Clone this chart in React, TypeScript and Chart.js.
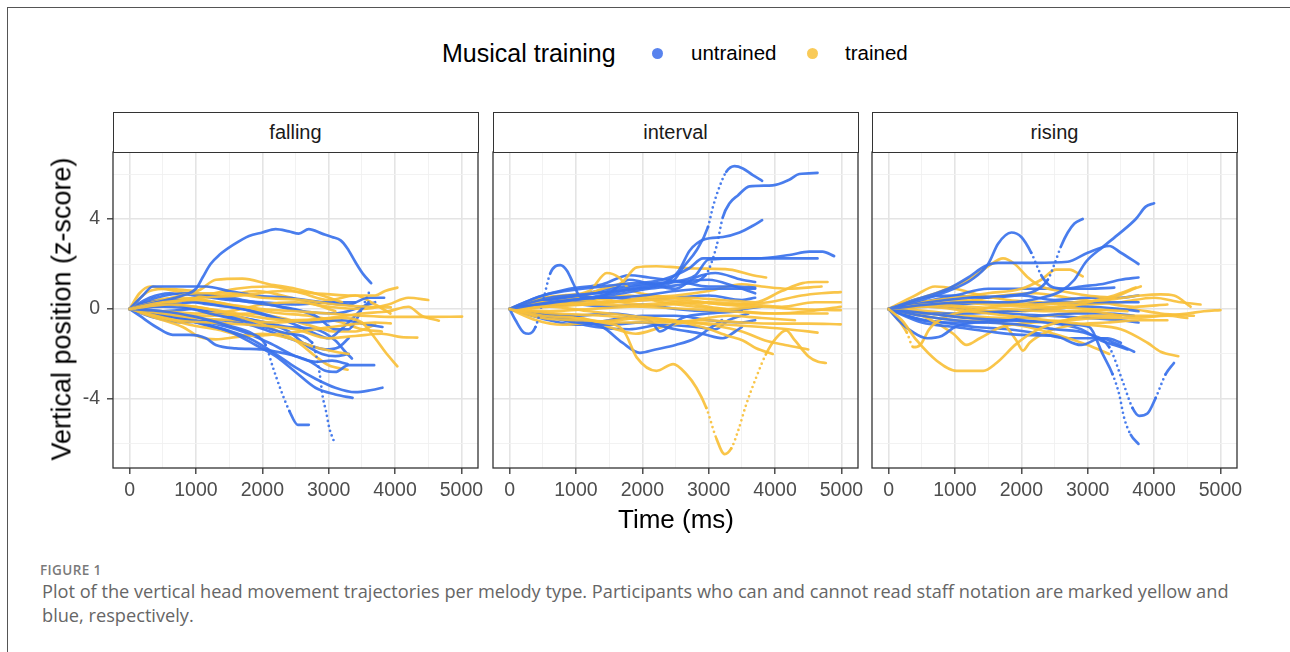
import React, { useEffect, useRef } from 'react';
import { Chart, registerables } from 'chart.js';

Chart.register(...registerables);

// ---------- data (time in ms, vertical position as z-score) ----------
const PANEL_TITLES = ['falling', 'interval', 'rising'];
const GROUP_LABELS = ['untrained', 'trained'];
const X_TICKS = [0, 500, 1000, 1500, 2000, 2500, 3000, 3500, 4000, 4500, 5000];
const Y_TICKS = [-6, -4, -2, 0, 2, 4, 6];

const fallingUntrained: number[][][] = [
  [[0,0],[400,0.3],[800,0.6],[1000,0.9],[1100,1.4],[1220,2.0],[1350,2.4],[1560,2.85],[1800,3.25],[2000,3.4],[2200,3.55],[2400,3.45],[2550,3.35],[2700,3.55],[2900,3.35],[3050,3.2],[3180,3.05],[3280,2.7],[3400,2.1],[3520,1.55],[3640,1.15]],
  [[0,0],[500,-0.1],[1000,-0.35],[1500,-0.75],[1850,-1.1],[2050,-1.6],[2160,-2.6],[2285,-3.65],[2410,-4.55],[2535,-5.15],[2700,-5.15]],
  [[0,0],[600,0.2],[1200,-0.2],[1800,-0.6],[2400,-1.1],[2750,-1.5],[2860,-2.8],[2910,-3.9],[2960,-4.55],[3010,-5.3],[3075,-5.85]],
  [[0,0],[500,-0.2],[1000,-0.6],[1500,-1.0],[1900,-1.6],[2200,-2.1],[2500,-2.8],[2800,-3.5],[3100,-3.8],[3360,-3.95]],
  [[0,0],[700,-0.4],[1300,-0.8],[1800,-1.3],[2200,-2.0],[2500,-2.6],[2800,-3.1],[3100,-3.5],[3400,-3.7],[3650,-3.6],[3810,-3.5]],
  [[0,0],[150,-0.3],[400,-0.8],[650,-1.15],[900,-1.15],[1150,-1.3],[1300,-1.6],[1600,-1.75],[2000,-1.8],[2300,-1.95],[2700,-2.3],[2950,-2.75],[3100,-2.8],[3300,-2.5],[3685,-2.5]],
  [[0,0],[500,-0.3],[1000,-0.5],[1600,-0.9],[2100,-1.5],[2500,-2.1],[2800,-2.35],[3050,-2.3],[3285,-2.45]],
  [[0,0],[200,0.6],[350,1.0],[800,1.0],[1150,1.0],[1500,0.8],[1900,0.6],[2400,0.5],[2900,0.3],[3300,0.2],[3600,0.5],[3835,0.5]],
  [[0,0],[400,0.5],[900,0.7],[1400,0.5],[1800,0.3],[2300,0.1],[2800,-0.3],[3100,-0.9],[3300,-0.9],[3450,-0.3],[3610,0.75]],
  [[0,0],[300,0.3],[700,0.4],[1200,0.2],[1700,0.0],[2200,-0.4],[2700,-0.6],[3200,-0.5],[3600,-0.7],[3810,-0.8]],
  [[0,0],[500,0.15],[1000,0.3],[1500,0.1],[2000,-0.2],[2500,-0.7],[2800,-1.1],[3000,-1.3],[3150,-1.0],[3400,-0.3],[3600,0.3]],
  [[0,0],[400,-0.4],[800,-0.6],[1300,-0.5],[1800,-0.7],[2300,-1.2],[2700,-1.6],[2950,-1.8],[3150,-1.7],[3300,-1.3]],
  [[0,0],[300,0.5],[600,0.7],[1000,0.6],[1500,0.4],[2000,0.3],[2500,0.2],[3000,0.3],[3400,0.3]],
  [[0,0],[500,-0.1],[1000,0.0],[1400,-0.3],[1900,-0.5],[2400,-0.8],[2800,-0.9],[3100,-1.4],[3250,-1.9],[3350,-2.2]],
  [[0,0],[600,0.3],[1300,0.6],[1700,0.4],[2100,0.2],[2600,-0.1],[3100,-0.2],[3500,0.1],[3700,0.3]],
  [[0,0],[500,0.1],[1200,-0.1],[2000,-0.6],[2400,-1.0],[2650,-1.6],[2900,-2.0],[3100,-2.1],[3300,-2.0]],
];

const fallingTrained: number[][][] = [
  [[0,0],[500,0.3],[1000,0.4],[1500,0.2],[2000,0.0],[2500,-0.1],[3000,-0.2],[3500,-0.3],[3900,-0.35],[4500,-0.35],[5010,-0.34]],
  [[0,0],[600,0.2],[1200,0.0],[1800,-0.3],[2400,-0.5],[3000,-0.4],[3500,-0.2],[3900,-0.1],[4200,0.1],[4400,-0.3],[4660,-0.52]],
  [[0,0],[700,-0.5],[1200,-0.6],[1800,-0.7],[2500,-0.9],[3000,-1.3],[3400,-1.2],[3800,-1.1],[4100,-1.25],[4335,-1.27]],
  [[0,0],[500,-0.2],[1000,-0.4],[1600,-0.5],[2200,-0.6],[2700,-0.5],[3200,-0.4],[3500,-0.6],[3700,-1.3],[3850,-1.9],[4035,-2.55]],
  [[0,0],[600,0.3],[1100,0.5],[1700,0.6],[2300,0.8],[2800,0.7],[3300,0.6],[3700,0.6],[3850,0.8],[4035,0.95]],
  [[0,0],[500,0.4],[1000,0.7],[1500,0.7],[2000,0.5],[2600,0.4],[3100,0.2],[3600,0.1],[3935,0.07]],
  [[0,0],[400,-0.3],[900,-0.7],[1300,-0.9],[1800,-1.2],[2300,-1.1],[2800,-0.9],[3300,-0.7],[3700,-0.6],[3935,-0.64]],
  [[0,0],[500,0.2],[1000,0.1],[1600,-0.3],[2100,-0.8],[2500,-1.4],[2800,-2.1],[3000,-2.5],[3285,-2.7]],
  [[0,0],[300,0.8],[600,0.9],[1000,0.8],[1300,1.3],[1700,1.35],[2100,1.1],[2500,0.9],[2900,0.6],[3200,0.3]],
  [[0,0],[150,0.7],[310,1.0],[500,0.9],[900,0.7],[1400,0.6],[1900,0.8],[2300,0.6],[2800,0.2],[3100,-0.1]],
  [[0,0],[400,-0.4],[800,-0.8],[1060,-1.25],[1300,-1.35],[1600,-1.25],[2000,-1.1],[2400,-1.3],[2800,-1.7],[3100,-1.9],[3300,-2.0]],
  [[0,0],[500,-0.1],[1000,-0.2],[1500,-0.1],[2000,0.2],[2500,0.3],[3000,0.1],[3500,0.0],[3900,0.2],[4200,0.5],[4500,0.4]],
  [[0,0],[500,0.2],[1000,0.5],[1600,0.9],[2100,1.0],[2600,0.7],[3000,0.4],[3400,0.6],[3700,0.2],[3930,-0.2]],
  [[0,0],[600,-0.3],[1200,-0.3],[1800,-0.2],[2300,-0.4],[2800,-0.8],[3100,-1.0],[3400,-1.0],[3700,-0.7]],
  [[0,0],[400,0.4],[800,0.5],[1300,0.3],[1800,0.0],[2300,-0.2],[2700,-0.3],[3200,-0.6],[3500,-0.9],[3800,-1.0]],
];

const intervalUntrained: number[][][] = [
  [[0,0],[600,0.3],[1200,0.5],[1700,0.8],[2100,1.0],[2450,1.2],[2615,1.85],[2815,2.6],[2990,3.65],[3065,4.55],[3165,5.45],[3265,6.1],[3390,6.35],[3515,6.25],[3665,5.95],[3805,5.7]],
  [[0,0],[700,0.3],[1500,0.6],[2100,0.9],[2600,1.1],[2950,1.5],[3115,2.75],[3215,4.1],[3315,4.7],[3440,5.05],[3615,5.45],[3965,5.5],[4215,5.75],[4365,6.0],[4640,6.05]],
  [[0,0],[600,0.5],[1300,0.7],[1900,0.9],[2300,1.1],[2550,1.7],[2715,2.6],[2940,3.1],[3215,3.2],[3465,3.4],[3665,3.7],[3805,3.95]],
  [[0,0],[500,0.6],[1100,0.9],[1700,1.1],[2300,1.3],[2700,1.8],[2915,2.25],[3300,2.25],[3715,2.25],[4215,2.4],[4515,2.55],[4715,2.55],[4890,2.35]],
  [[0,0],[600,0.4],[1300,0.7],[1900,1.0],[2400,1.2],[2800,1.5],[3000,2.2],[3500,2.25],[4000,2.25],[4640,2.25]],
  [[0,0],[90,-0.5],[215,-1.05],[290,-1.1],[390,-0.8],[515,0.5],[615,1.6],[765,1.95],[865,1.7],[965,1.1],[1065,0.55],[1500,0.5],[2000,0.6],[2500,0.8],[3000,0.9],[3700,0.9]],
  [[0,0],[500,-0.3],[1000,-0.5],[1400,-0.8],[1700,-1.5],[1965,-1.95],[2200,-1.8],[2500,-1.6],[2800,-1.3],[3000,-0.9],[3200,-0.5]],
  [[0,0],[500,-0.2],[1000,-0.3],[1500,-0.2],[2000,-0.4],[2150,-0.6],[2265,-1.0],[2400,-0.8],[2600,-0.4],[3000,-0.2],[3500,-0.1]],
  [[0,0],[500,-0.3],[1000,-0.6],[1500,-0.7],[2000,-0.6],[2500,-0.9],[2900,-1.1],[3215,-1.3],[3400,-1.0],[3500,-0.8]],
  [[0,0],[400,0.5],[900,0.9],[1400,1.1],[1800,1.5],[2100,1.4],[2600,1.2],[3000,1.0],[3400,1.0],[3700,0.95]],
  [[0,0],[500,0.4],[1000,0.6],[1500,0.9],[2000,1.1],[2500,1.2],[3000,1.3],[3400,1.0],[3700,0.7]],
  [[0,0],[400,0.3],[900,0.5],[1500,0.5],[2000,0.4],[2500,0.5],[3000,0.6],[3500,0.4],[3700,0.5]],
  [[0,0],[600,-0.5],[1000,-0.7],[1500,-0.5],[2000,-0.3],[2500,-0.3],[3000,-0.5],[3500,-0.6],[3700,-0.5]],
  [[0,0],[500,0.2],[1000,0.3],[1500,0.7],[1800,1.3],[2000,1.2],[2500,0.9],[2800,1.4],[3100,1.6],[3500,1.3],[3700,1.2]],
  [[0,0],[500,0.1],[1000,0.2],[1500,0.1],[2000,0.2],[2500,0.0],[3000,-0.1],[3500,0.0],[3800,0.1]],
  [[0,0],[700,-0.4],[1300,-0.8],[1800,-0.9],[2300,-0.7],[2800,-0.8],[3100,-0.9],[3300,-0.5],[3600,-0.2]],
];

const intervalTrained: number[][][] = [
  [[0,0],[500,-0.3],[1000,-0.4],[1400,-0.6],[1715,-0.95],[1915,-2.15],[2215,-2.75],[2465,-2.45],[2665,-2.9],[2815,-3.5],[2965,-4.4],[3115,-5.75],[3240,-6.45],[3340,-6.2],[3440,-5.45],[3565,-4.25],[3715,-3.05],[3865,-2.0],[4015,-1.3],[4165,-0.95],[4300,-1.4],[4500,-2.1],[4650,-2.35],[4765,-2.4]],
  [[0,0],[600,0.1],[1200,-0.1],[1800,-0.3],[2400,-0.5],[2900,-0.8],[3300,-1.2],[3515,-1.4],[3715,-1.75],[3965,-2.0]],
  [[0,0],[700,-0.2],[1400,-0.3],[2100,-0.5],[2700,-0.6],[3300,-0.7],[3800,-0.8],[4200,-0.9],[4640,-1.05]],
  [[0,0],[600,0.2],[1300,0.3],[2000,0.4],[2600,0.5],[3200,0.4],[3700,0.3],[4100,0.8],[4415,1.15],[4615,1.2],[4790,1.2]],
  [[0,0],[500,0.3],[1000,0.2],[1600,0.3],[2200,0.4],[2800,0.3],[3400,0.2],[3900,0.3],[4400,0.6],[4700,0.7],[4990,0.75]],
  [[0,0],[600,-0.1],[1200,0.0],[1800,0.1],[2400,0.2],[3000,0.3],[3600,0.2],[4100,0.1],[4600,0.3],[4990,0.3]],
  [[0,0],[500,-0.4],[1100,-0.5],[1700,-0.6],[2300,-0.6],[2900,-0.5],[3500,-0.6],[4000,-0.65],[4500,-0.65],[4990,-0.68]],
  [[0,0],[600,0.1],[1300,0.2],[2000,0.1],[2700,0.0],[3300,-0.1],[3900,-0.2],[4400,-0.2],[4790,-0.2]],
  [[0,0],[500,0.3],[1000,0.5],[1400,0.9],[1700,1.2],[1915,1.85],[2215,1.9],[2515,1.85],[2800,1.8],[3315,1.75],[3665,1.5],[3865,1.4]],
  [[0,0],[400,0.4],[800,0.6],[1200,0.8],[1465,1.6],[1650,1.4],[1800,0.9],[2200,0.6],[2700,0.4],[3200,0.2],[3700,0.1]],
  [[0,0],[400,-0.5],[800,-0.7],[1200,-0.6],[1600,-0.5],[2000,-0.4],[2500,-0.5],[3000,-0.7],[3500,-1.0],[3850,-1.4],[4150,-1.6],[4500,-1.8]],
  [[0,0],[500,0.2],[1000,0.4],[1500,0.3],[2000,0.5],[2500,0.6],[3000,0.8],[3500,1.1],[3800,1.0],[4200,0.9],[4700,1.0]],
  [[0,0],[500,-0.2],[1100,-0.4],[1600,-0.9],[1900,-1.1],[2300,-0.8],[2800,-0.5],[3300,-0.3],[3800,-0.4],[4300,-0.5]],
  [[0,0],[500,0.5],[1000,0.6],[1500,0.4],[2000,0.2],[2500,0.3],[3000,0.1],[3500,-0.1],[4000,-0.2],[4500,-0.1],[4990,0.1]],
  [[0,0],[600,0.2],[1200,0.4],[1800,0.6],[2300,0.3],[2800,0.1],[3300,0.0],[3800,0.1],[4300,0.0],[4990,-0.05]],
];

const risingUntrained: number[][][] = [
  [[0,0],[600,0.2],[1200,0.3],[1800,0.3],[2300,0.5],[2600,0.8],[2800,1.3],[2975,2.1],[3225,2.75],[3475,3.35],[3725,4.0],[3875,4.55],[4000,4.7]],
  [[0,0],[500,0.4],[900,0.8],[1250,1.3],[1500,2.0],[1650,2.9],[1850,3.4],[2000,3.2],[2150,2.5],[2300,1.5],[2450,1.0],[2650,0.9],[2900,1.0],[3200,1.1],[3500,1.3],[3765,1.4]],
  [[0,0],[600,0.3],[1200,0.5],[1800,0.6],[2200,0.8],[2400,1.3],[2500,2.0],[2600,2.8],[2700,3.4],[2800,3.8],[2925,4.0]],
  [[0,0],[500,0.5],[900,0.9],[1200,1.4],[1450,1.9],[1650,2.05],[2200,2.05],[2700,2.1],[3000,2.5],[3325,2.8],[3500,2.5],[3765,2.0]],
  [[0,0],[600,-0.2],[1200,-0.4],[1800,-0.5],[2400,-0.6],[2800,-0.7],[3025,-0.8],[3225,-2.0],[3375,-2.9],[3475,-3.8],[3550,-4.85],[3650,-5.6],[3765,-6.0]],
  [[0,0],[500,-0.3],[1000,-0.5],[1500,-0.6],[2000,-0.7],[2500,-0.9],[3000,-1.1],[3325,-1.7],[3525,-3.2],[3675,-4.4],[3775,-4.75],[3900,-4.65],[4025,-3.95],[4175,-2.9],[4300,-2.4]],
  [[0,0],[150,-0.5],[350,-1.0],[575,-1.3],[800,-1.2],[1000,-0.8],[1300,-0.6],[1800,-0.5],[2300,-0.3],[2800,-0.2],[3300,-0.2],[3700,-0.3]],
  [[0,0],[500,-0.6],[1000,-0.8],[1500,-1.0],[2000,-1.15],[2500,-1.2],[2900,-1.6],[3200,-1.3],[3400,-1.5],[3700,-1.9]],
  [[0,0],[500,0.3],[1000,0.6],[1500,0.9],[2000,0.9],[2500,0.9],[3000,0.9],[3400,0.95]],
  [[0,0],[500,0.2],[1000,0.2],[1500,0.3],[2000,0.2],[2500,0.3],[3000,0.3],[3500,0.3],[3765,0.3]],
  [[0,0],[600,-0.2],[1200,-0.2],[1800,-0.1],[2400,0.0],[3000,0.1],[3500,0.0],[3765,-0.1]],
  [[0,0],[400,-0.4],[900,-0.6],[1400,-0.6],[1900,-0.5],[2400,-0.6],[2900,-0.9],[3200,-1.4],[3400,-1.6],[3600,-1.8]],
  [[0,0],[500,0.5],[1000,0.6],[1500,0.5],[2000,0.6],[2500,0.4],[3000,0.5],[3500,0.5],[3765,0.6]],
  [[0,0],[500,-0.5],[800,-0.6],[1300,-0.8],[1800,-0.9],[2300,-1.1],[2700,-1.3],[3000,-1.3],[3300,-1.3],[3500,-1.5]],
  [[0,0],[600,0.1],[1200,0.0],[1800,-0.2],[2400,-0.3],[3000,-0.4],[3500,-0.5],[3765,-0.6]],
];

const risingTrained: number[][][] = [
  [[0,0],[200,-0.5],[425,-1.4],[725,-2.3],[1025,-2.75],[1425,-2.75],[1625,-2.4],[1925,-1.55],[2225,-0.95],[2725,-0.45],[3100,-0.3],[3500,-0.3]],
  [[0,0],[600,0.1],[1200,-0.1],[1800,-0.3],[2400,-0.5],[3000,-0.7],[3500,-0.9],[3900,-1.5],[4100,-1.9],[4365,-2.1]],
  [[0,0],[600,0.2],[1200,0.1],[1800,0.0],[2400,-0.1],[3000,-0.1],[3600,-0.3],[4000,-0.3],[4500,-0.2],[4750,-0.1],[5000,-0.05]],
  [[0,0],[500,0.3],[1000,0.4],[1600,0.3],[2200,0.2],[2800,0.3],[3300,0.4],[3800,0.6],[4100,0.65],[4300,0.6],[4550,0.1]],
  [[0,0],[400,0.4],[800,0.8],[1200,1.3],[1500,1.9],[1725,2.25],[1900,2.0],[2100,1.4],[2300,1.0],[2600,0.8],[3000,0.6],[3400,0.5]],
  [[0,0],[500,0.3],[1000,0.5],[1500,0.7],[2000,0.9],[2300,1.3],[2525,1.75],[2725,1.75],[2925,1.45]],
  [[0,0],[500,0.2],[1000,0.3],[1500,0.2],[2000,0.1],[2500,0.0],[3000,0.3],[3400,0.6],[3725,0.95]],
  [[0,0],[125,-0.4],[275,-1.05],[375,-1.7],[475,-1.6],[625,-0.85],[900,-0.3],[1400,0.0],[1900,0.2],[2400,0.1],[3000,0.0],[3600,-0.1]],
  [[0,0],[500,-0.3],[975,-1.1],[1175,-1.6],[1375,-1.3],[1700,-0.8],[2200,-0.6],[2700,-0.5],[3200,-0.4],[3700,-0.4],[4200,-0.3],[4500,-0.4]],
  [[0,0],[600,-0.2],[1200,-0.4],[1700,-0.6],[1925,-1.4],[2025,-1.85],[2125,-1.5],[2400,-1.0],[2800,-0.7],[3300,-0.6],[3800,-0.5],[4200,-0.5]],
  [[0,0],[500,-0.3],[1000,-0.5],[1600,-0.6],[2100,-0.8],[2600,-1.2],[3000,-1.6],[3325,-2.0]],
  [[0,0],[400,0.6],[700,1.0],[1000,0.9],[1400,0.6],[1800,0.4],[2300,0.3],[2800,0.2],[3300,0.4],[3700,0.9],[3800,1.0]],
  [[0,0],[500,0.2],[1000,0.1],[1500,-0.1],[2000,-0.1],[2500,0.1],[3000,0.2],[3500,0.3],[4000,0.5],[4400,0.3],[4700,0.2]],
  [[0,0],[600,-0.1],[1200,-0.3],[1800,-0.4],[2400,-0.3],[3000,-0.1],[3600,0.0],[4100,-0.2],[4600,-0.3]],
  [[0,0],[500,0.1],[1100,0.3],[1700,0.6],[2200,0.7],[2700,0.5],[3200,0.3],[3700,0.1],[4200,0.2]],
];

// ---------- styling ----------
const BLUE = 'rgba(58, 114, 236, 0.92)';
const YELLOW = 'rgba(248, 192, 58, 0.92)';
const SANS = '"Liberation Sans", Arial, sans-serif';
const X_MIN = -250, X_MAX = 5250, Y_MIN = -7.07, Y_MAX = 6.98;

const PLOT_TOP = 152;
const PLOT_H = 316;
const PLOT_W = 365;
const Y_AXIS_W = 50;
const X_AXIS_H = 45;
const PAD_TOP = 28;
const PAD_RIGHT = 15;

const borderPlugin = {
  id: 'panelBorder',
  afterDraw(chart: any) {
    const { ctx, chartArea: a } = chart;
    ctx.save();
    ctx.strokeStyle = '#333333';
    ctx.lineWidth = 1.3;
    ctx.strokeRect(a.left, a.top, a.right - a.left, a.bottom - a.top);
    ctx.restore();
  },
};

function toDataset(traj: number[][], color: string) {
  return {
    data: traj.map(([x, y]) => ({ x, y })),
    borderColor: color,
    backgroundColor: color,
    borderWidth: 2.7,
    pointRadius: 0,
    pointHoverRadius: 0,
    fill: false,
    cubicInterpolationMode: 'monotone',
    borderCapStyle: 'round',
    borderJoinStyle: 'round',
    segment: {
      borderDash: (c: any) => {
        const dx = Math.abs(c.p1.x - c.p0.x);
        const dy = Math.abs(c.p1.y - c.p0.y);
        return dy > dx * 2.2 ? [0, 5] : undefined;
      },
    },
  };
}

function Panel({ plotLeft, title, untrained, trained, showY }: any) {
  const ref = useRef<HTMLCanvasElement>(null);
  useEffect(() => {
    const datasets: any[] = [];
    const n = Math.max(untrained.length, trained.length);
    for (let i = 0; i < n; i++) {
      if (trained[i]) datasets.push(toDataset(trained[i], YELLOW));
      if (untrained[i]) datasets.push(toDataset(untrained[i], BLUE));
    }
    const isMajorX = (v: number) => v % 1000 === 0;
    const isMajorY = (v: number) => v % 4 === 0;
    const chart = new Chart(ref.current as HTMLCanvasElement, {
      type: 'line',
      data: { datasets },
      plugins: [borderPlugin],
      options: {
        animation: false,
        responsive: false,
        events: [],
        layout: { padding: { top: PAD_TOP, right: PAD_RIGHT, left: 0, bottom: 0 } },
        plugins: { legend: { display: false }, tooltip: { enabled: false } },
        scales: {
          x: {
            type: 'linear',
            min: X_MIN,
            max: X_MAX,
            border: { display: false },
            afterBuildTicks: (s: any) => { s.ticks = X_TICKS.map((v) => ({ value: v })); },
            afterFit: (s: any) => { s.height = X_AXIS_H; },
            grid: {
              color: (c: any) => (c.tick && isMajorX(c.tick.value) ? '#e4e4e4' : '#f0f0f0'),
              lineWidth: (c: any) => (c.tick && isMajorX(c.tick.value) ? 1.6 : 0.9),
              tickColor: (c: any) => (c.tick && isMajorX(c.tick.value) ? '#333333' : 'rgba(0,0,0,0)'),
              tickWidth: 1.3,
              tickLength: 6,
            },
            ticks: {
              autoSkip: false,
              maxRotation: 0,
              padding: 5,
              color: '#4d4d4d',
              font: { family: SANS, size: 19.5 },
              callback: (v: any) => (isMajorX(Number(v)) ? String(v) : ''),
            },
          },
          y: {
            type: 'linear',
            min: Y_MIN,
            max: Y_MAX,
            border: { display: false },
            afterBuildTicks: (s: any) => { s.ticks = Y_TICKS.map((v) => ({ value: v })); },
            afterFit: (s: any) => { s.width = Y_AXIS_W; },
            grid: {
              color: (c: any) => (c.tick && isMajorY(c.tick.value) ? '#e4e4e4' : '#f0f0f0'),
              lineWidth: (c: any) => (c.tick && isMajorY(c.tick.value) ? 1.6 : 0.9),
              tickColor: (c: any) => (showY && c.tick && isMajorY(c.tick.value) ? '#333333' : 'rgba(0,0,0,0)'),
              tickWidth: 1.3,
              tickLength: 6,
            },
            ticks: {
              display: showY,
              autoSkip: false,
              padding: 7,
              color: '#4d4d4d',
              font: { family: SANS, size: 19.5 },
              callback: (v: any) => (isMajorY(Number(v)) ? String(v) : ''),
            },
          },
        },
      } as any,
    });
    return () => chart.destroy();
  }, []);

  const canvasW = Y_AXIS_W + PLOT_W + PAD_RIGHT;
  const canvasH = PAD_TOP + PLOT_H + X_AXIS_H;
  return (
    <>
      <canvas
        ref={ref}
        width={canvasW}
        height={canvasH}
        style={{ position: 'absolute', left: plotLeft - Y_AXIS_W, top: PLOT_TOP - PAD_TOP, width: canvasW, height: canvasH }}
      />
      <div
        style={{
          position: 'absolute', left: plotLeft - 0.5, top: 112, width: PLOT_W + 1, height: 41,
          boxSizing: 'border-box', border: '1.3px solid #333', background: '#fff',
          display: 'flex', alignItems: 'center', justifyContent: 'center',
          font: `20px ${SANS}`, color: '#1a1a1a',
        }}
      >
        {title}
      </div>
    </>
  );
}

export default function App() {
  useEffect(() => {
    document.body.style.margin = '0';
    document.body.style.background = '#fff';
  }, []);
  return (
    <div style={{ position: 'relative', width: 1290, height: 652, overflow: 'hidden', background: '#fff' }}>
      {/* frame */}
      <div style={{ position: 'absolute', left: 7, top: 7, width: 1290, height: 652, borderTop: '1.6px solid #555', borderLeft: '1.6px solid #555' }} />

      {/* legend */}
      <div style={{ position: 'absolute', left: 442, top: 39, height: 30, lineHeight: '30px', font: `25px ${SANS}`, color: '#000', whiteSpace: 'nowrap' }}>Musical training</div>
      <div style={{ position: 'absolute', left: 651.5, top: 47.5, width: 11, height: 11, borderRadius: '50%', background: 'rgba(70,118,236,0.9)' }} />
      <div style={{ position: 'absolute', left: 691, top: 41, height: 28, lineHeight: '28px', font: `20.5px ${SANS}`, color: '#000', whiteSpace: 'nowrap' }}>{GROUP_LABELS[0]}</div>
      <div style={{ position: 'absolute', left: 806.5, top: 47.5, width: 11, height: 11, borderRadius: '50%', background: 'rgba(248,196,70,0.9)' }} />
      <div style={{ position: 'absolute', left: 845, top: 41, height: 28, lineHeight: '28px', font: `20.5px ${SANS}`, color: '#000', whiteSpace: 'nowrap' }}>{GROUP_LABELS[1]}</div>

      <Panel plotLeft={113} title={PANEL_TITLES[0]} untrained={fallingUntrained} trained={fallingTrained} showY={true} />
      <Panel plotLeft={493} title={PANEL_TITLES[1]} untrained={intervalUntrained} trained={intervalTrained} showY={false} />
      <Panel plotLeft={872} title={PANEL_TITLES[2]} untrained={risingUntrained} trained={risingTrained} showY={false} />

      {/* axis titles */}
      <div style={{ position: 'absolute', left: 62, top: 309, transform: 'translate(-50%, -50%) rotate(-90deg)', font: `27px ${SANS}`, color: '#000', whiteSpace: 'nowrap' }}>
        Vertical position (z-score)
      </div>
      <div style={{ position: 'absolute', left: 676, top: 519, transform: 'translate(-50%, -50%)', font: `26px ${SANS}`, color: '#000', whiteSpace: 'nowrap' }}>
        Time (ms)
      </div>

      {/* caption */}
      <div style={{ position: 'absolute', left: 40, top: 561, height: 18, lineHeight: '18px', font: `600 13.5px "Open Sans", sans-serif`, letterSpacing: '0.4px', color: '#7a7a7a', whiteSpace: 'nowrap' }}>
        FIGURE 1
      </div>
      <div style={{ position: 'absolute', left: 42, top: 579, lineHeight: '25px', font: `18.2px "Open Sans", sans-serif`, color: '#666', whiteSpace: 'nowrap' }}>
        Plot of the vertical head movement trajectories per melody type. Participants who can and cannot read staff notation are marked yellow and
        <br />
        blue, respectively.
      </div>
    </div>
  );
}
